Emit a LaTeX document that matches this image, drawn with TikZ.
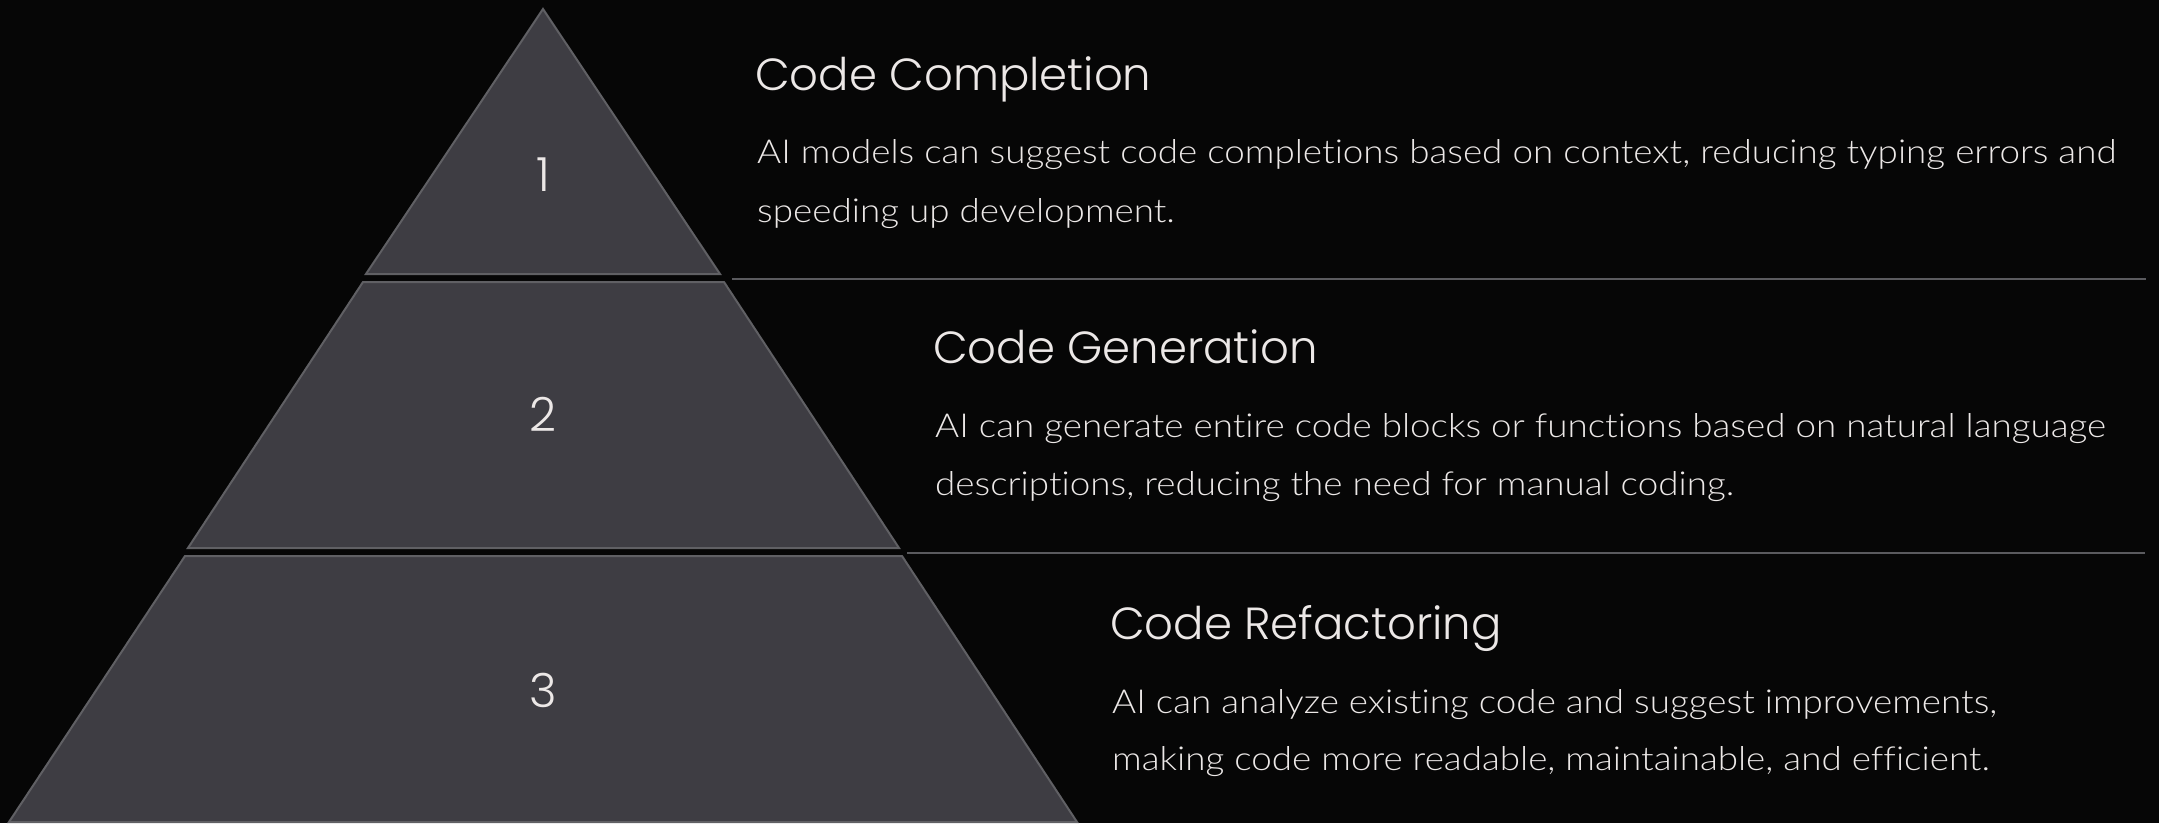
\documentclass[tikz,border=0pt]{standalone}
\usepackage{fontspec}
% Heading and numeral face
\IfFontExistsTF{Poppins Light}
  {\newfontfamily\headfont{Poppins Light}}
  {\IfFontExistsTF{Poppins}{\newfontfamily\headfont{Poppins}}{\newfontfamily\headfont{Liberation Sans}}}
% Body face, widened a little and without ligatures
\IfFontExistsTF{Lato Light}
  {\newfontfamily\bodyfont{Lato Light}[FakeStretch=1.115, Ligatures=NoCommon]}
  {\IfFontExistsTF{Lato}{\newfontfamily\bodyfont{Lato}[FakeStretch=1.115, Ligatures=NoCommon]}{\newfontfamily\bodyfont{Liberation Sans}}}

\definecolor{bgc}{HTML}{060606}
\definecolor{tierfill}{HTML}{3E3D43}
\definecolor{tieredge}{HTML}{606064}
\definecolor{rulec}{HTML}{5A5A5E}
\definecolor{inkc}{HTML}{ECE8E7}

\tikzset{
  tier/.style={fill=tierfill, draw=tieredge, line width=2pt, line join=miter},
  rulestyle/.style={draw=rulec, line width=2pt},
  num/.style={inner sep=0pt, text=inkc, font=\headfont\fontsize{47}{47}\selectfont},
  head/.style={inner sep=0pt, anchor=base west, text=inkc, font=\headfont\fontsize{45}{45}\selectfont},
  body/.style={inner sep=0pt, anchor=base west, text=inkc, font=\bodyfont\fontsize{33}{33}\selectfont},
}

\begin{document}
\begin{tikzpicture}[x=1pt,y=-1pt]
  \fill[bgc] (0,0) rectangle (2159,823);
  \useasboundingbox (0,0) rectangle (2159,823);

  % pyramid tiers, top to bottom
  \path[tier] (543,9) -- (720,274) -- (366,274) -- cycle;
  \path[tier] (363,282) -- (724,282) -- (899,548) -- (188,548) -- cycle;
  \path[tier] (185,556) -- (902,556) -- (1077,822) -- (9,822) -- cycle;

  % tier numbers
  \node[num] (n1) at (543,175) {1};
  \node[num] (n2) at (543,414) {2};
  \node[num] (n3) at (543,690) {3};

  % separators
  \draw[rulestyle] (732,279) -- (2146,279);
  \draw[rulestyle] (907,553) -- (2145,553);

  % tier 1 text
  \node[head] (h1) at (755,90) {Code Completion};
  \node[body] (d1a) at (757,163) {AI models can suggest code completions based on context, reducing typing errors and};
  \node[body] (d1b) at (757,222) {speeding up development.};

  % tier 2 text
  \node[head] (h2) at (933,363) {Code Generation};
  \node[body] (d2a) at (935,437) {AI can generate entire code blocks or functions based on natural language};
  \node[body] (d2b) at (935,495) {descriptions, reducing the need for manual coding.};

  % tier 3 text
  \node[head] (h3) at (1110,639) {Code Refactoring};
  \node[body] (d3a) at (1112,713) {AI can analyze existing code and suggest improvements,};
  \node[body] (d3b) at (1112,770) {making code more readable, maintainable, and efficient.};
\end{tikzpicture}
\end{document}
